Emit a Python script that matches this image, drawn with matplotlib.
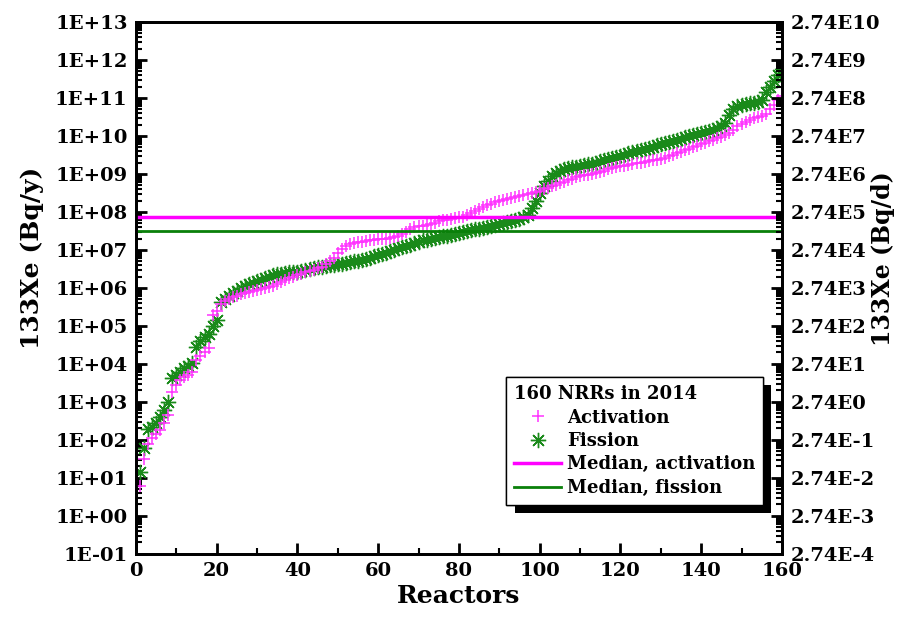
import numpy as np
import matplotlib
matplotlib.use("Agg")
import matplotlib.pyplot as plt
from matplotlib import patheffects
from matplotlib.ticker import FixedLocator, LogLocator, NullFormatter, MultipleLocator

plt.rcParams['font.family'] = ['DejaVu Serif']
plt.rcParams['font.weight'] = 'bold'
plt.rcParams['axes.labelweight'] = 'bold'

# log10 of 133Xe release (Bq/y), reactors sorted
act_log10 = [
    0.80, 1.50, 1.90, 2.05, 2.15, 2.25, 2.45, 2.65, 3.25, 3.45,
    3.58, 3.65, 3.72, 3.80, 4.10, 4.20, 4.32, 4.42, 5.30, 5.40,
    5.57, 5.65, 5.70, 5.76, 5.80, 5.84, 5.87, 5.90, 5.93, 5.95,
    5.97, 5.99, 6.02, 6.06, 6.10, 6.15, 6.20, 6.25, 6.30, 6.35,
    6.38, 6.42, 6.45, 6.48, 6.52, 6.56, 6.62, 6.70, 6.80, 6.92,
    7.02, 7.10, 7.15, 7.18, 7.20, 7.22, 7.24, 7.26, 7.27, 7.28,
    7.29, 7.30, 7.32, 7.34, 7.36, 7.42, 7.48, 7.55, 7.60, 7.62,
    7.64, 7.66, 7.69, 7.72, 7.75, 7.78, 7.80, 7.82, 7.84, 7.86,
    7.88, 7.92, 7.97, 8.02, 8.07, 8.12, 8.17, 8.21, 8.25, 8.28,
    8.31, 8.33, 8.36, 8.39, 8.41, 8.44, 8.47, 8.50, 8.53, 8.56,
    8.60, 8.64, 8.68, 8.72, 8.76, 8.80, 8.84, 8.88, 8.91, 8.94,
    8.96, 8.98, 9.00, 9.03, 9.06, 9.09, 9.12, 9.15, 9.18, 9.20,
    9.22, 9.24, 9.26, 9.28, 9.30, 9.32, 9.34, 9.36, 9.38, 9.40,
    9.43, 9.46, 9.50, 9.54, 9.58, 9.62, 9.66, 9.70, 9.74, 9.78,
    9.82, 9.86, 9.90, 9.94, 9.98, 10.02, 10.07, 10.15, 10.25, 10.32,
    10.38, 10.43, 10.47, 10.50, 10.53, 10.58, 10.70, 10.82, 10.95, 11.05,
]
fis_log10 = [
    1.15, 1.80, 2.30, 2.35, 2.45, 2.60, 2.80, 3.00, 3.62, 3.72,
    3.80, 3.88, 3.95, 4.02, 4.45, 4.60, 4.70, 4.78, 5.00, 5.15,
    5.62, 5.70, 5.78, 5.86, 5.93, 6.00, 6.05, 6.10, 6.14, 6.18,
    6.22, 6.26, 6.30, 6.33, 6.36, 6.38, 6.40, 6.41, 6.42, 6.43,
    6.45, 6.47, 6.50, 6.52, 6.54, 6.56, 6.58, 6.60, 6.61, 6.62,
    6.64, 6.66, 6.68, 6.70, 6.72, 6.74, 6.77, 6.80, 6.83, 6.86,
    6.90, 6.93, 6.96, 7.00, 7.04, 7.07, 7.10, 7.14, 7.18, 7.22,
    7.25, 7.27, 7.29, 7.31, 7.33, 7.36, 7.38, 7.40, 7.42, 7.45,
    7.48, 7.50, 7.52, 7.54, 7.56, 7.58, 7.60, 7.63, 7.66, 7.69,
    7.72, 7.74, 7.76, 7.79, 7.82, 7.86, 7.92, 8.10, 8.30, 8.50,
    8.68, 8.82, 8.94, 9.02, 9.08, 9.12, 9.15, 9.17, 9.19, 9.21,
    9.23, 9.25, 9.27, 9.30, 9.33, 9.36, 9.39, 9.42, 9.45, 9.48,
    9.51, 9.54, 9.57, 9.60, 9.63, 9.66, 9.69, 9.72, 9.75, 9.78,
    9.81, 9.84, 9.87, 9.90, 9.93, 9.96, 9.99, 10.02, 10.05, 10.08,
    10.11, 10.14, 10.17, 10.20, 10.25, 10.35, 10.55, 10.70, 10.78, 10.82,
    10.84, 10.86, 10.88, 10.90, 10.95, 11.15, 11.30, 11.45, 11.60, 11.75,
]
median_act = 7.2e7
median_fis = 3.1e7

reactors = np.arange(1, len(act_log10) + 1)
act = 10 ** np.array(act_log10)
fis = 10 ** np.array(fis_log10)

decades = np.arange(-1, 14)
left_labels = ["1E%+03d" % k for k in decades]
right_labels = ["2.74E%d" % (k - 3) for k in decades]

fig = plt.figure(figsize=(9.06, 6.28), dpi=100)
ax = fig.add_axes([0.150, 0.118, 0.713, 0.847])

pink = '#ff33ff'
green = '#1a8a1a'
ax.plot(reactors, act, linestyle='none', marker='+', markersize=9,
        markeredgewidth=1.1, color=pink, label='Activation', zorder=3)
ax.plot(reactors, fis, linestyle='none', marker=(8, 2, 0), markersize=11,
        markeredgewidth=1.0, color=green, label='Fission', zorder=2)
ax.axhline(median_act, color='#ff00ff', lw=2.5, label='Median, activation', zorder=4)
ax.axhline(median_fis, color='#0a800a', lw=2.0, label='Median, fission', zorder=4)

ax.set_yscale('log')
ax.set_ylim(1e-1, 1e13)
ax.set_xlim(0, 160)
ax.xaxis.set_major_locator(MultipleLocator(20))
ax.xaxis.set_minor_locator(MultipleLocator(10))
ax.yaxis.set_major_locator(FixedLocator(10.0 ** decades))
ax.set_yticklabels(left_labels)
ax.yaxis.set_minor_locator(LogLocator(base=10, subs=np.arange(2, 10), numticks=100))
ax.yaxis.set_minor_formatter(NullFormatter())

ax2 = ax.twinx()
ax2.set_yscale('log')
ax2.set_ylim(1e-1, 1e13)
ax2.yaxis.set_major_locator(FixedLocator(10.0 ** decades))
ax2.set_yticklabels(right_labels)
ax2.yaxis.set_minor_locator(LogLocator(base=10, subs=np.arange(2, 10), numticks=100))
ax2.yaxis.set_minor_formatter(NullFormatter())

for a in (ax, ax2):
    a.tick_params(which='major', direction='in', length=8, width=2, labelsize=14, pad=6)
    a.tick_params(which='minor', direction='in', length=4, width=1.5)
    for s in a.spines.values():
        s.set_linewidth(2)
ax.tick_params(axis='y', which='both', right=False)
ax.tick_params(axis='x', which='both', top=False)

ax.set_xlabel('Reactors', fontsize=18, labelpad=3)
ax.set_ylabel('133Xe (Bq/y)', fontsize=18)
ax.yaxis.set_label_coords(-0.142, 0.556)
ax2.set_ylabel('133Xe (Bq/d)', fontsize=17)
ax2.yaxis.set_label_coords(1.138, 0.556)

leg = ax.legend(loc='lower right', bbox_to_anchor=(0.985, 0.075), title='160 NRRs in 2014',
                fancybox=False, framealpha=1, edgecolor='black', fontsize=13,
                title_fontproperties={'weight': 'bold', 'size': 13},
                alignment='left', handlelength=2.6, handletextpad=0.3,
                labelspacing=0.3, borderpad=0.45)
leg.get_frame().set_linewidth(1.0)
leg.get_frame().set_path_effects([
    patheffects.withSimplePatchShadow(offset=(6, -6), shadow_rgbFace='black', alpha=1.0),
    patheffects.Normal()])

fig.savefig('out.png', dpi=100)
